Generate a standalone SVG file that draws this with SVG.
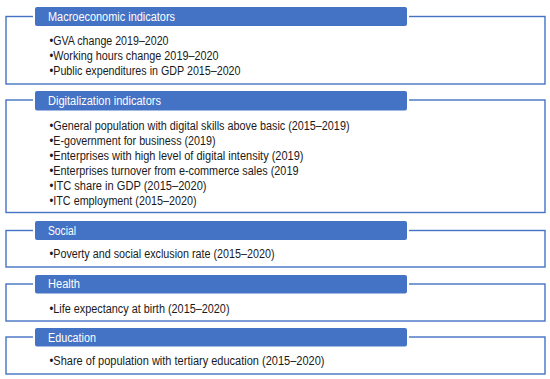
<svg xmlns="http://www.w3.org/2000/svg" width="550" height="379" viewBox="0 0 550 379">
<style>
.frame{fill:none;stroke:#4472C4;stroke-width:1.4}
.hdr{fill:#4472C4;stroke:#fff;stroke-width:2}
.ht{font-family:"Liberation Sans",Arial,sans-serif;font-size:12.5px;fill:#fff}
.bt{font-family:"Liberation Sans",Arial,sans-serif;font-size:12px;fill:#1a1a1a}
</style>
<rect width="550" height="379" fill="#fff"/>
<g id="connectors"></g>
<g id="macro">
<rect class="frame" x="6" y="16.5" width="539" height="67.5"/>
<rect class="hdr" x="34" y="6" width="374" height="21" rx="3"/>
<text class="ht" x="48" y="21" textLength="127" lengthAdjust="spacingAndGlyphs">Macroeconomic indicators</text>
<text class="bt" x="49.5" y="44.5" textLength="119" lengthAdjust="spacingAndGlyphs">•GVA change 2019–2020</text>
<text class="bt" x="49.5" y="59.5" textLength="169" lengthAdjust="spacingAndGlyphs">•Working hours change 2019–2020</text>
<text class="bt" x="49.5" y="74.5" textLength="191" lengthAdjust="spacingAndGlyphs">•Public expenditures in GDP 2015–2020</text>
</g>
<g id="digital">
<rect class="frame" x="6" y="100" width="539" height="112.5"/>
<rect class="hdr" x="34" y="90" width="374" height="21.5" rx="3"/>
<text class="ht" x="48" y="105" textLength="113" lengthAdjust="spacingAndGlyphs">Digitalization indicators</text>
<text class="bt" x="49.5" y="129.5" textLength="300" lengthAdjust="spacingAndGlyphs">•General population with digital skills above basic (2015–2019)</text>
<text class="bt" x="49.5" y="144.5" textLength="166" lengthAdjust="spacingAndGlyphs">•E-government for business (2019)</text>
<text class="bt" x="49.5" y="159.5" textLength="254" lengthAdjust="spacingAndGlyphs">•Enterprises with high level of digital intensity (2019)</text>
<text class="bt" x="49.5" y="174.5" textLength="249" lengthAdjust="spacingAndGlyphs">•Enterprises turnover from e-commerce sales (2019</text>
<text class="bt" x="49.5" y="190" textLength="157" lengthAdjust="spacingAndGlyphs">•ITC share in GDP (2015–2020)</text>
<text class="bt" x="49.5" y="205" textLength="147" lengthAdjust="spacingAndGlyphs">•ITC employment (2015–2020)</text>
</g>
<g id="social">
<rect class="frame" x="6" y="230.5" width="539" height="36.5"/>
<rect class="hdr" x="34" y="220" width="374" height="21" rx="3"/>
<text class="ht" x="48" y="234.5" textLength="28" lengthAdjust="spacingAndGlyphs">Social</text>
<text class="bt" x="49.5" y="258" textLength="225" lengthAdjust="spacingAndGlyphs">•Poverty and social exclusion rate (2015–2020)</text>
</g>
<g id="health">
<rect class="frame" x="6" y="284" width="539" height="37"/>
<rect class="hdr" x="34" y="274" width="374" height="20.5" rx="3"/>
<text class="ht" x="48" y="288" textLength="32" lengthAdjust="spacingAndGlyphs">Health</text>
<text class="bt" x="49.5" y="313" textLength="180" lengthAdjust="spacingAndGlyphs">•Life expectancy at birth (2015–2020)</text>
</g>
<g id="education">
<rect class="frame" x="6" y="337" width="539" height="37"/>
<rect class="hdr" x="34" y="327" width="374" height="20.5" rx="3"/>
<text class="ht" x="48" y="342" textLength="48" lengthAdjust="spacingAndGlyphs">Education</text>
<text class="bt" x="49.5" y="365" textLength="275" lengthAdjust="spacingAndGlyphs">•Share of population with tertiary education (2015–2020)</text>
</g>
</svg>
